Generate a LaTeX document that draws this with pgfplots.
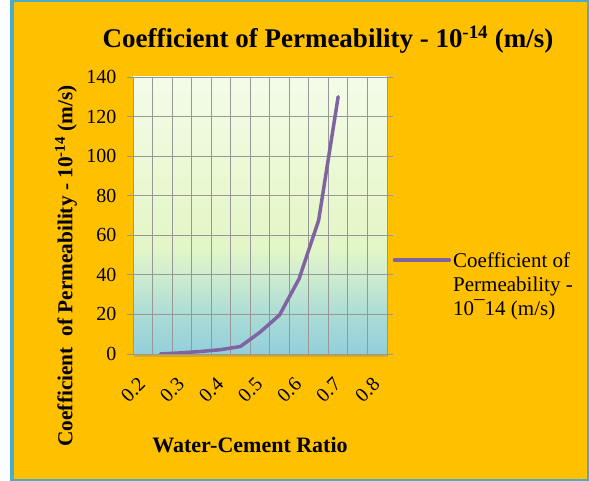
\documentclass[border=0pt]{standalone}
\usepackage{fontspec}
\setmainfont{Liberation Serif}
\usepackage{pgfplots}
\pgfplotsset{compat=1.18}
\usetikzlibrary{shadows}
\definecolor{bgorange}{HTML}{FFC000}
\definecolor{framec}{HTML}{4BACC6}
\definecolor{linepurple}{HTML}{8064A2}
\definecolor{gridgray}{HTML}{979797}
\definecolor{s0}{HTML}{92CFDB}
\definecolor{s1}{HTML}{ABDCD6}
\definecolor{s2}{HTML}{D2EECE}
\definecolor{s3}{HTML}{E3F6C7}
\definecolor{s4}{HTML}{E9F8CF}
\definecolor{s5}{HTML}{F3FCE9}
\pgfdeclareverticalshading{plotbg}{100bp}{color(0bp)=(s0); color(25bp)=(s0); color(32bp)=(s1); color(40bp)=(s2); color(44bp)=(s3); color(54bp)=(s4); color(75bp)=(s5); color(100bp)=(s5)}
\begin{document}
\begin{tikzpicture}[x=1pt,y=1pt]
\useasboundingbox (0,0) rectangle (589,481);
\fill[white] (0,0) rectangle (589,481);
\fill[framec] (10,0) rectangle (589,481);
\fill[bgorange] (14,2) rectangle (587,479);
\begin{axis}[
  at={(133pt,127pt)}, anchor=south west,
  width=254pt, height=277pt, scale only axis,
  xmin=0.2, xmax=0.85, ymin=0, ymax=140,
  xtick={0.2,0.3,0.4,0.5,0.6,0.7,0.8},
  minor xtick={0.25,0.35,0.45,0.55,0.65,0.75,0.85},
  ytick={0,20,40,60,80,100,120,140},
  grid=both,
  major grid style={gridgray, line width=0.9pt},
  minor grid style={gridgray, line width=0.9pt},
  axis line style={gridgray, line width=0.9pt},
  tick align=outside,
  major tick length=6pt,
  minor tick length=0pt,
  x tick style={draw=none},
  y tick style={gridgray, line width=0.9pt},
  axis background/.style={shading=plotbg, drop shadow={shadow xshift=1pt, shadow yshift=-3pt, opacity=0.35}},
  /pgf/number format/assume math mode=true,
  ticklabel style={font=\fontsize{20}{22}\selectfont},
  xticklabel style={yshift=-30pt, rotate=45, anchor=center, /pgf/number format/.cd, fixed, precision=1, fixed zerofill},
  yticklabel style={anchor=east, xshift=-7pt},
  legend style={draw=none, fill=none, at={(1.01,0.38)}, anchor=north west,
    nodes={align=left, font=\fontsize{21}{24}\selectfont}},
  legend cell align=left,
  legend image code/.code={\draw[#1] (0pt,25pt) -- (55pt,25pt);},
]
\addplot[linepurple, line width=3.5pt, line join=round, line cap=round] coordinates {
  (0.27,0) (0.325,0.6) (0.375,1.3) (0.425,2.2) (0.475,3.8) (0.525,11) (0.575,19.7) (0.625,38) (0.675,67.5) (0.725,130)
};
\addlegendentry{Coefficient of\\Permeability -\\10¯14 (m/s)}
\end{axis}
\node[font=\fontsize{27}{32}\selectfont\bfseries] at (328,441) {Coefficient of Permeability - 10\textsuperscript{-14} (m/s)};
\node[font=\fontsize{21.3}{24}\selectfont\bfseries, rotate=90] at (66,215) {Coefficient\ \ of Permeability - 10\textsuperscript{-14} (m/s)};
\node[font=\fontsize{22}{24}\selectfont\bfseries] at (250,36) {Water-Cement Ratio};
\end{tikzpicture}
\end{document}
